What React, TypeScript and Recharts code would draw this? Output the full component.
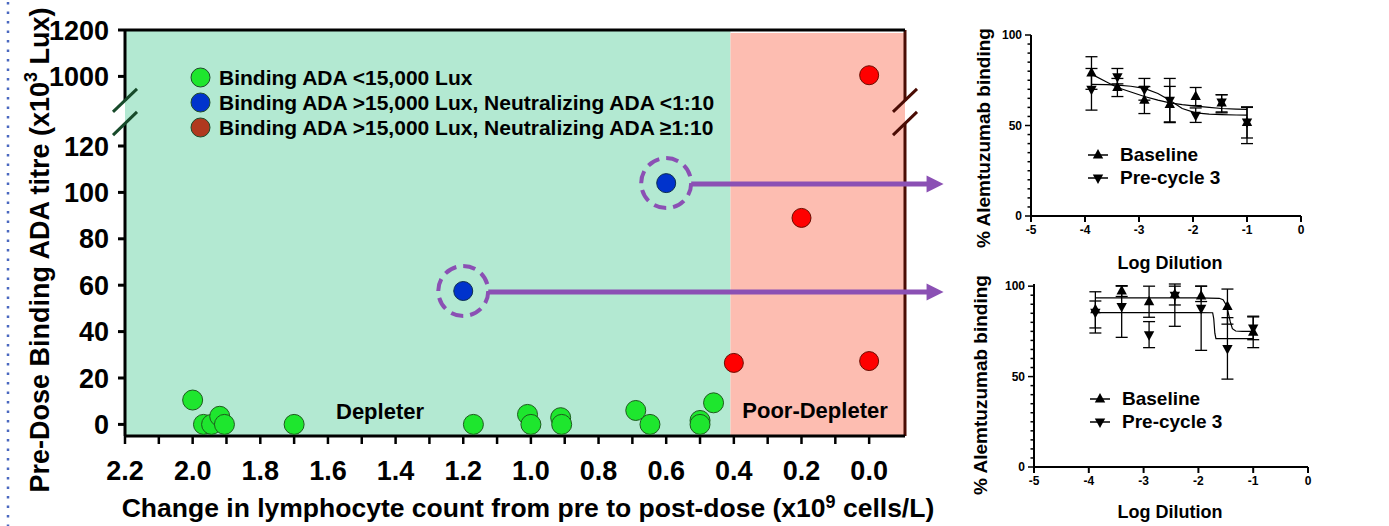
import React from 'react';
import {
  ScatterChart,
  Scatter,
  XAxis,
  YAxis,
  ReferenceArea,
  ReferenceLine,
  ReferenceDot,
  ErrorBar,
  Legend,
} from 'recharts';

const FONT = '"Liberation Sans", Arial, Helvetica, sans-serif';
const PURPLE = '#8b50b4';

// ---- main panel: change in lymphocyte count vs pre-dose binding ADA titre ----
const lowAdaX = [2.0, 1.968, 1.944, 1.92, 1.906, 1.7, 1.17, 1.01, 1.0, 0.912, 0.909, 0.69, 0.648, 0.5, 0.5, 0.46];
const lowAdaY = [10.5, 0, 0, 3.5, 0, 0, 0, 4.3, 0, 2.9, 0, 6, 0, 1.7, 0, 9.3];
const nonNeutX = [1.2, 0.6];
const nonNeutY = [57.5, 104];
const neutX = [0.4, 0.2, 0.0, 0.0];
const neutY = [26.5, 89, 27.3, 1005];

const xTicks = [2.2, 2.1, 2.0, 1.9, 1.8, 1.7, 1.6, 1.5, 1.4, 1.3, 1.2, 1.1, 1.0, 0.9, 0.8, 0.7, 0.6, 0.5, 0.4, 0.3, 0.2, 0.1, 0.0];
const yTickValues = [0, 20, 40, 60, 80, 100, 120, 1000, 1200];

const legendNames = [
  'Binding ADA <15,000 Lux',
  'Binding ADA >15,000 Lux, Neutralizing ADA <1:10',
  'Binding ADA >15,000 Lux, Neutralizing ADA \u22651:10',
];
const legendColors = ['#1ee62e', '#0033cc', '#b0391f'];

const depleterCutoff = 0.41;

// ---- side panels: % alemtuzumab binding vs log dilution ----
const dilutions = [-3.88, -3.4, -2.9, -2.43, -1.95, -1.47, -1.0];

const topBaseline = [79, 71, 64, 61.6, 66, 62.5, 51.7];
const topBaselineLow = [9, 5, 7.4, 10, 5, 5, 8.6];
const topBaselineHigh = [9, 5, 7.5, 10, 5, 4.5, 8.6];
const topPre = [70, 77, 70, 64, 55.7, 63, 52];
const topPreLow = [11.5, 4, 6, 12, 4, 6, 12];
const topPreHigh = [11.5, 4.5, 6, 12, 4, 4, 8];
const topBaselineFitX = [-3.88, -3.6, -3.4, -3.15, -2.9, -2.65, -2.43, -2.2, -1.95, -1.7, -1.47, -1.2, -1.0];
const topBaselineFitY = [78.4, 74, 71, 68.5, 66, 64, 62.5, 61.5, 60.7, 60, 59.4, 59.1, 58.9];
const topPreFitX = [-3.88, -3.6, -3.4, -3.15, -2.9, -2.65, -2.43, -2.2, -1.95, -1.7, -1.47, -1.2, -1.0];
const topPreFitY = [72.7, 72.6, 72.3, 71.7, 70.5, 67.7, 64, 59.4, 57, 56.3, 56, 55.8, 55.7];

const botBaseline = [86.9, 97.3, 91.4, 95.4, 94.5, 88.7, 74.5];
const botBaselineLow = [10, 3, 8.6, 5.8, 3, 9.7, 8.5];
const botBaselineHigh = [10, 3, 8.6, 5.8, 5.5, 9.7, 8.5];
const botPre = [85.6, 88.7, 73.2, 95, 87.8, 65.6, 76.9];
const botPreLow = [11.5, 17, 7.2, 17.2, 23.3, 17, 6.5];
const botPreHigh = [6.2, 11.3, 7.2, 5, 12.2, 17, 6.5];
const botBaselineFitX = [-3.88, -3.0, -2.0, -1.62, -1.55, -1.5, -1.46, -1.42, -1.38, -1.32, -1.2, -1.0];
const botBaselineFitY = [93.5, 93.5, 93.5, 93.3, 92.5, 90, 86, 80.5, 76.5, 75.2, 75, 75];
const botPreFitX = [-3.88, -3.0, -2.0, -1.74, -1.72, -1.7, -1.68, -1.5, -1.2, -1.0];
const botPreFitY = [85.4, 85.4, 85.4, 85.3, 82, 74, 71, 71, 71, 71];

// axis break: values >= 1000 are squeezed onto the top of the axis
const toAxis = (v: number) => (v < 1000 ? v : 150 + (v - 1000) / 10);
const fromAxis = (v: number) => (v <= 130 ? String(v) : String(Math.round(1000 + (v - 150) * 10)));

const X_MIN = -0.106;
const X_MAX = 2.2;
const Y_MIN = -5;
const Y_MAX = 170;

const lowAdaData = lowAdaX.map((x, i) => ({ x, y: toAxis(lowAdaY[i]) }));
const nonNeutData = nonNeutX.map((x, i) => ({ x, y: toAxis(nonNeutY[i]) }));
const neutData = neutX.map((x, i) => ({ x, y: toAxis(neutY[i]) }));

const RING_R = 25;

// eslint-disable-next-line @typescript-eslint/no-explicit-any
function GreenDot({ cx, cy }: any) {
  return <circle cx={cx} cy={cy} r={10} fill="#1ee62e" stroke="#1d5a1d" strokeWidth={1} />;
}

// eslint-disable-next-line @typescript-eslint/no-explicit-any
function RedDot({ cx, cy }: any) {
  return <circle cx={cx} cy={cy} r={9.5} fill="#ff0000" stroke="#6a0c00" strokeWidth={1} />;
}

// eslint-disable-next-line @typescript-eslint/no-explicit-any
function RingedBlueDot({ cx, cy }: any) {
  return (
    <g>
      <circle cx={cx} cy={cy} r={RING_R} fill="none" stroke={PURPLE} strokeWidth={4} strokeDasharray="12.5 7" />
      <circle cx={cx} cy={cy} r={9.5} fill="#0033cc" stroke="#0d2e50" strokeWidth={1} />
    </g>
  );
}

// eslint-disable-next-line @typescript-eslint/no-explicit-any
function Arrow({ x1, y1, x2 }: any) {
  const xs = Math.min(x1, x2) + RING_R;
  const xe = Math.max(x1, x2);
  const y = y1 + 1;
  return (
    <g>
      <line x1={xs} y1={y} x2={xe - 14} y2={y} stroke={PURPLE} strokeWidth={5} />
      <polygon points={`${xe},${y} ${xe - 17},${y - 8.5} ${xe - 17},${y + 8.5}`} fill={PURPLE} />
    </g>
  );
}

// eslint-disable-next-line @typescript-eslint/no-explicit-any
function MainYTitle({ viewBox }: any) {
  const vb = viewBox ?? { x: 65, y: 30, width: 60, height: 406 };
  const cx = vb.x - 25;
  const cy = vb.y + vb.height / 2 + 17;
  return (
    <text
      x={cx}
      y={cy}
      transform={`rotate(-90 ${cx} ${cy})`}
      textAnchor="middle"
      dominantBaseline="central"
      fontSize={27}
      fontWeight={700}
      fontFamily={FONT}
      fill="#000"
    >
      Pre-Dose Binding ADA titre (x10<tspan dy={-9} fontSize={18}>3</tspan>
      <tspan dy={9}> Lux)</tspan>
    </text>
  );
}

// eslint-disable-next-line @typescript-eslint/no-explicit-any
function MainXTitle({ viewBox }: any) {
  const vb = viewBox ?? { x: 125, y: 436, width: 780, height: 90 };
  return (
    <text
      x={vb.x + vb.width / 2 + 13}
      y={vb.y + 81}
      textAnchor="middle"
      fontSize={26.5}
      fontWeight={700}
      fontFamily={FONT}
      fill="#000"
    >
      Change in lymphocyte count from pre to post-dose (x10<tspan dy={-9} fontSize={18}>9</tspan>
      <tspan dy={9}> cells/L)</tspan>
    </text>
  );
}

function MainLegend() {
  return (
    <div style={{ fontFamily: FONT }}>
      {legendNames.map((name, i) => (
        <div key={name} style={{ display: 'flex', alignItems: 'center', height: 25 }}>
          <svg width={21} height={21} style={{ flex: 'none' }}>
            <circle cx={10.5} cy={10.5} r={9.5} fill={legendColors[i]} stroke="#1d4a2a" strokeWidth={1} />
          </svg>
          <span style={{ marginLeft: 8, fontSize: 21, lineHeight: '25px', fontWeight: 700, color: '#000', whiteSpace: 'nowrap' }}>
            {name}
          </span>
        </div>
      ))}
    </div>
  );
}

const BREAK_LOW = 129.5;
const BREAK_HIGH = 139.4;
const SLASH_DX = 0.0355;
const slashes = [
  [124.7, 134.7],
  [134.7, 144.6],
];

function MainChart() {
  return (
    <ScatterChart width={960} height={526} margin={{ top: 30, right: 55, bottom: 0, left: 65 }}>
      <ReferenceArea x1={X_MAX} x2={depleterCutoff} y1={Y_MIN} y2={Y_MAX} fill="#b3e9d2" fillOpacity={1} stroke="none" ifOverflow="visible" />
      <ReferenceArea x1={depleterCutoff} x2={X_MIN} y1={Y_MIN} y2={Y_MAX - 1.3} fill="#fdbdb1" fillOpacity={1} stroke="none" ifOverflow="visible" />
      <XAxis
        type="number"
        dataKey="x"
        domain={[X_MIN, X_MAX]}
        reversed
        allowDataOverflow
        ticks={xTicks}
        interval={0}
        tickFormatter={(v: number) => (Math.round(v * 10) % 2 === 0 ? v.toFixed(1) : '')}
        height={90}
        axisLine={{ stroke: '#000', strokeWidth: 3 }}
        tickLine={{ stroke: '#000', strokeWidth: 2.5 }}
        tickSize={8}
        tickMargin={17}
        tick={{ fill: '#000', fontSize: 27, fontWeight: 700, fontFamily: FONT }}
        label={MainXTitle}
      />
      <YAxis
        type="number"
        dataKey="y"
        domain={[Y_MIN, Y_MAX]}
        allowDataOverflow
        ticks={yTickValues.map(toAxis)}
        interval={0}
        tickFormatter={fromAxis}
        width={60}
        axisLine={false}
        tickLine={{ stroke: '#000', strokeWidth: 3 }}
        tickSize={7}
        tickMargin={9}
        tick={{ fill: '#000', fontSize: 27, fontWeight: 700, fontFamily: FONT }}
        label={MainYTitle}
      />
      {/* frame with the axis break */}
      <ReferenceLine segment={[{ x: X_MAX, y: Y_MIN }, { x: X_MAX, y: BREAK_LOW }]} stroke="#000" strokeWidth={3} ifOverflow="visible" />
      <ReferenceLine segment={[{ x: X_MAX, y: BREAK_HIGH }, { x: X_MAX, y: Y_MAX }]} stroke="#000" strokeWidth={3} ifOverflow="visible" />
      <ReferenceLine segment={[{ x: X_MIN, y: Y_MIN }, { x: X_MIN, y: BREAK_LOW }]} stroke="#4a0c04" strokeWidth={3} ifOverflow="visible" />
      <ReferenceLine segment={[{ x: X_MIN, y: BREAK_HIGH }, { x: X_MIN, y: Y_MAX }]} stroke="#4a0c04" strokeWidth={3} ifOverflow="visible" />
      <ReferenceLine segment={[{ x: X_MAX, y: Y_MAX }, { x: X_MIN, y: Y_MAX }]} stroke="#000" strokeWidth={3} ifOverflow="visible" />
      {slashes.map(([a, b], i) => (
        <ReferenceLine
          key={`l${i}`}
          segment={[{ x: X_MAX + SLASH_DX, y: a }, { x: X_MAX - SLASH_DX, y: b }]}
          stroke="#174a2a"
          strokeWidth={3}
          ifOverflow="visible"
        />
      ))}
      {slashes.map(([a, b], i) => (
        <ReferenceLine
          key={`r${i}`}
          segment={[{ x: X_MIN + SLASH_DX, y: a }, { x: X_MIN - SLASH_DX, y: b }]}
          stroke="#4a0c04"
          strokeWidth={3}
          ifOverflow="visible"
        />
      ))}
      {nonNeutData.map((p, i) => (
        <ReferenceLine
          key={`a${i}`}
          segment={[{ x: p.x, y: p.y }, { x: -0.22, y: p.y }]}
          stroke={PURPLE}
          ifOverflow="visible"
          shape={Arrow}
        />
      ))}
      <ReferenceDot
        x={1.446}
        y={5.5}
        r={0}
        fill="none"
        stroke="none"
        label={{ value: 'Depleter', position: 'center', fontSize: 22, fontWeight: 700, fill: '#000', fontFamily: FONT }}
      />
      <ReferenceDot
        x={0.16}
        y={6.3}
        r={0}
        fill="none"
        stroke="none"
        ifOverflow="visible"
        label={{ value: 'Poor-Depleter', position: 'center', fontSize: 22, fontWeight: 700, fill: '#000', fontFamily: FONT }}
      />
      <Scatter name={legendNames[0]} data={lowAdaData} shape={GreenDot} isAnimationActive={false} />
      <Scatter name={legendNames[1]} data={nonNeutData} shape={RingedBlueDot} isAnimationActive={false} />
      <Scatter name={legendNames[2]} data={neutData} shape={RedDot} isAnimationActive={false} />
      <Legend
        layout="horizontal"
        verticalAlign="middle"
        align="center"
        content={MainLegend}
        wrapperStyle={{ position: 'absolute', left: 190, top: 65, width: 'auto' }}
      />
    </ScatterChart>
  );
}

// ---- side panels ----

// eslint-disable-next-line @typescript-eslint/no-explicit-any
function TriUp({ cx, cy }: any) {
  return <polygon points={`${cx},${cy - 6} ${cx - 5.2},${cy + 3.5} ${cx + 5.2},${cy + 3.5}`} fill="#000" />;
}

// eslint-disable-next-line @typescript-eslint/no-explicit-any
function TriDown({ cx, cy }: any) {
  return <polygon points={`${cx},${cy + 6} ${cx - 5.2},${cy - 3.5} ${cx + 5.2},${cy - 3.5}`} fill="#000" />;
}

function NoMark() {
  return <g />;
}

// eslint-disable-next-line @typescript-eslint/no-explicit-any
function PercentTick({ x, y, payload }: any) {
  const major = payload.value % 50 === 0;
  return (
    <g>
      <line x1={x - (major ? 6 : 3.5)} y1={y} x2={x} y2={y} stroke="#000" strokeWidth={1.5} />
      {major && (
        <text x={x - 9} y={y} dy="0.35em" textAnchor="end" fontSize={12} fontWeight={700} fontFamily={FONT} fill="#000">
          {payload.value}
        </text>
      )}
    </g>
  );
}

const percentTicks = [0, 5, 10, 15, 20, 25, 30, 35, 40, 45, 50, 55, 60, 65, 70, 75, 80, 85, 90, 95, 100];

interface PanelProps {
  left: number;
  top: number;
  height: number;
  margin: { top: number; right: number; left: number; bottom: number };
  xAxisHeight: number;
  baseline: number[];
  baselineLow: number[];
  baselineHigh: number[];
  pre: number[];
  preLow: number[];
  preHigh: number[];
  baseFitX: number[];
  baseFitY: number[];
  preFitX: number[];
  preFitY: number[];
  yTitle: [number, number];
  xTitleY: number;
  legendPos: [number, number];
}

function LegendRow({ label, down }: { label: string; down?: boolean }) {
  return (
    <div style={{ display: 'flex', alignItems: 'center', height: 23 }}>
      <svg width={24} height={20} style={{ flex: 'none' }}>
        <line x1={2} y1={10} x2={22} y2={10} stroke="#000" strokeWidth={1.5} />
        {down ? <TriDown cx={12} cy={10} /> : <TriUp cx={12} cy={10} />}
      </svg>
      <span style={{ marginLeft: 10, fontSize: 19, lineHeight: '23px', fontWeight: 700, color: '#000', whiteSpace: 'nowrap' }}>
        {label}
      </span>
    </div>
  );
}

function PanelLegend() {
  return (
    <div style={{ fontFamily: FONT }}>
      <LegendRow label="Baseline" />
      <LegendRow label="Pre-cycle 3" down />
    </div>
  );
}

function DilutionPanel(p: PanelProps) {
  const baseRows = dilutions.map((x, i) => ({ x, y: p.baseline[i], err: [p.baselineLow[i], p.baselineHigh[i]] }));
  const preRows = dilutions.map((x, i) => ({ x, y: p.pre[i], err: [p.preLow[i], p.preHigh[i]] }));
  const baseFit = p.baseFitX.map((x, i) => ({ x, y: p.baseFitY[i] }));
  const preFit = p.preFitX.map((x, i) => ({ x, y: p.preFitY[i] }));
  const [tx, ty] = p.yTitle;
  return (
    <div style={{ position: 'absolute', left: p.left, top: p.top }}>
      <ScatterChart width={380} height={p.height} margin={p.margin}>
        <XAxis
          type="number"
          dataKey="x"
          domain={[-5, 0]}
          ticks={[-5, -4, -3, -2, -1, 0]}
          interval={0}
          height={p.xAxisHeight}
          axisLine={{ stroke: '#000', strokeWidth: 2 }}
          tickLine={{ stroke: '#000', strokeWidth: 2 }}
          tickSize={6}
          tickMargin={3}
          tick={{ fill: '#000', fontSize: 12, fontWeight: 700, fontFamily: FONT }}
          label={() => (
            <text x={220} y={p.xTitleY} textAnchor="middle" fontSize={18} fontWeight={700} fontFamily={FONT} fill="#000">
              Log Dilution
            </text>
          )}
        />
        <YAxis
          type="number"
          dataKey="y"
          domain={[0, 100]}
          ticks={percentTicks}
          interval={0}
          width={40}
          axisLine={{ stroke: '#000', strokeWidth: 2 }}
          tickLine={false}
          tickSize={0}
          tickMargin={0}
          tick={PercentTick}
          label={() => (
            <text
              x={tx}
              y={ty}
              transform={`rotate(-90 ${tx} ${ty})`}
              textAnchor="middle"
              dominantBaseline="central"
              fontSize={19}
              fontWeight={700}
              fontFamily={FONT}
              fill="#000"
            >
              % Alemtuzumab binding
            </text>
          )}
        />
        <Scatter data={baseFit} shape={NoMark} line={{ stroke: '#000', strokeWidth: 1.2 }} lineType="joint" isAnimationActive={false} />
        <Scatter data={preFit} shape={NoMark} line={{ stroke: '#000', strokeWidth: 1.2 }} lineType="joint" isAnimationActive={false} />
        <Scatter name="Baseline" data={baseRows} shape={TriUp} isAnimationActive={false}>
          <ErrorBar dataKey="err" direction="y" width={6} stroke="#000" strokeWidth={1.3} />
        </Scatter>
        <Scatter name="Pre-cycle 3" data={preRows} shape={TriDown} isAnimationActive={false}>
          <ErrorBar dataKey="err" direction="y" width={6} stroke="#000" strokeWidth={1.3} />
        </Scatter>
        <Legend
          layout="horizontal"
          verticalAlign="middle"
          align="center"
          content={PanelLegend}
          wrapperStyle={{ position: 'absolute', left: p.legendPos[0], top: p.legendPos[1], width: 'auto' }}
        />
      </ScatterChart>
    </div>
  );
}

export default function App() {
  return (
    <div style={{ position: 'relative', width: 1389, height: 526, background: '#fff', overflow: 'hidden', fontFamily: FONT }}>
      <style>{'body{margin:0}'}</style>
      <svg width={6} height={526} style={{ position: 'absolute', left: 5, top: 0 }}>
        <line x1={3} y1={2} x2={3} y2={526} stroke="#4a68c0" strokeWidth={2.5} strokeDasharray="2.5 7" />
      </svg>
      <div style={{ position: 'absolute', left: 0, top: 0 }}>
        <MainChart />
      </div>
      <DilutionPanel
        left={950}
        top={20}
        height={260}
        margin={{ top: 15, right: 29, left: 41, bottom: 0 }}
        xAxisHeight={64}
        baseline={topBaseline}
        baselineLow={topBaselineLow}
        baselineHigh={topBaselineHigh}
        pre={topPre}
        preLow={topPreLow}
        preHigh={topPreHigh}
        baseFitX={topBaselineFitX}
        baseFitY={topBaselineFitY}
        preFitX={topPreFitX}
        preFitY={topPreFitY}
        yTitle={[33, 118]}
        xTitleY={249}
        legendPos={[136, 123]}
      />
      <DilutionPanel
        left={950}
        top={270}
        height={256}
        margin={{ top: 14, right: 22, left: 44, bottom: 0 }}
        xAxisHeight={59}
        baseline={botBaseline}
        baselineLow={botBaselineLow}
        baselineHigh={botBaselineHigh}
        pre={botPre}
        preLow={botPreLow}
        preHigh={botPreHigh}
        baseFitX={botBaselineFitX}
        baseFitY={botBaselineFitY}
        preFitX={botPreFitX}
        preFitY={botPreFitY}
        yTitle={[30, 115]}
        xTitleY={248}
        legendPos={[138, 117]}
      />
    </div>
  );
}
